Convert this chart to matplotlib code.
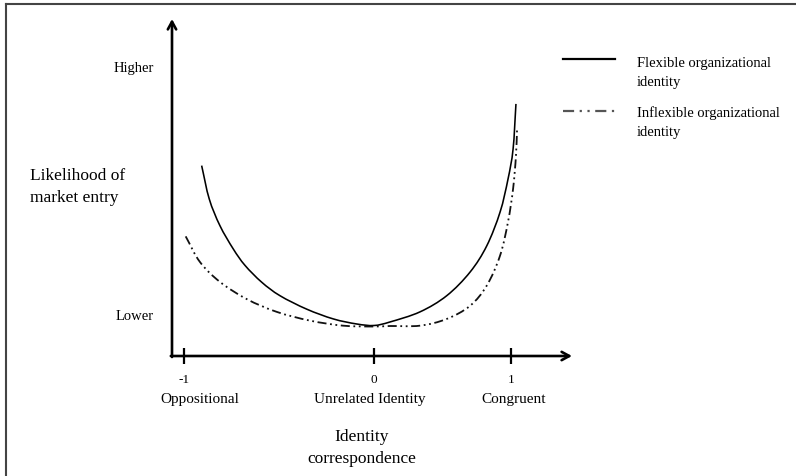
import numpy as np
import matplotlib
matplotlib.use("Agg")
import matplotlib.pyplot as plt
from matplotlib.lines import Line2D
from matplotlib.path import Path
from matplotlib.patches import PathPatch

plt.rcParams['font.family'] = ['Liberation Serif', 'DejaVu Serif']

# ---- data (conceptual curves) ----
flex_x = [-0.907, -0.867, -0.811, -0.741, -0.679, -0.591, -0.495, -0.354, -0.214,
          -0.091, 0.0, 0.117, 0.336, 0.531, 0.701, 0.823, 0.920, 0.978, 1.015, 1.036]
flex_y = [0.565, 0.466, 0.387, 0.318, 0.269, 0.219, 0.179, 0.139, 0.110,
          0.095, 0.0905, 0.101, 0.131, 0.179, 0.249, 0.327, 0.427, 0.525, 0.614, 0.748]

inflex_x = [-0.991, -0.916, -0.811, -0.670, -0.512, -0.337, -0.163, 0.0,
            0.117, 0.336, 0.531, 0.701, 0.823, 0.920, 0.978, 1.015, 1.036, 1.044]
inflex_y = [0.355, 0.279, 0.220, 0.169, 0.131, 0.105, 0.090, 0.0875,
            0.089, 0.090, 0.110, 0.149, 0.209, 0.298, 0.398, 0.496, 0.594, 0.674]

x_ticks = [-1, 0, 1]
x_tick_labels = ['-1', '0', '1']
x_categories = ['Oppositional', 'Unrelated Identity', 'Congruent']
y_ticks = [0.125, 0.861]
y_tick_labels = ['Lower', 'Higher']
series_labels = ['Flexible organizational\nidentity', 'Inflexible organizational\nidentity']

# ---- layout ----
W, H = 796, 477
fig = plt.figure(figsize=(W / 100, H / 100), dpi=100)

def fx(px):
    return px / W

def fy(py):
    return 1 - py / H

ax = fig.add_axes([fx(172), fy(357), 400 / W, 337 / H])

def fwd(x):
    x = np.asarray(x, dtype=float)
    return np.where(x < 0, x * 190.0, x * 137.0)

def inv(u):
    u = np.asarray(u, dtype=float)
    return np.where(u < 0, u / 190.0, u / 137.0)

ax.set_xscale('function', functions=(fwd, inv))
ax.set_xlim(-1.063, 1.445)
ax.set_ylim(0, 1)
for s in ax.spines.values():
    s.set_visible(False)
ax.patch.set_alpha(0)


def smooth_path(xs, ys):
    """Catmull-Rom curve through the given points, drawn as cubic Bezier path."""
    u = fwd(xs)
    v = np.asarray(ys, dtype=float) * 337.0
    P = np.column_stack([u, v])
    n = len(P)
    verts = [P[0]]
    codes = [Path.MOVETO]
    for i in range(n - 1):
        p0 = P[i - 1] if i > 0 else 2 * P[i] - P[i + 1]
        p1 = P[i]
        p2 = P[i + 1]
        p3 = P[i + 2] if i + 2 < n else 2 * P[i + 1] - P[i]
        c1 = p1 + (p2 - p0) / 6.0
        c2 = p2 - (p3 - p1) / 6.0
        verts += [c1, c2, p2]
        codes += [Path.CURVE4] * 3
    V = np.array(verts)
    V[:, 0] = inv(V[:, 0])
    V[:, 1] = V[:, 1] / 337.0
    return Path(V, codes)


ax.add_patch(PathPatch(smooth_path(flex_x, flex_y), fill=False, edgecolor='black',
                       lw=1.15))
ax.add_patch(PathPatch(smooth_path(inflex_x, inflex_y), fill=False, edgecolor='#111111',
                       lw=1.3, linestyle=(0, (5, 2, 1, 2, 1, 2))))

# axes arrows
arrow = dict(arrowstyle='->,head_length=0.55,head_width=0.3', lw=1.9,
             color='black', shrinkA=0, shrinkB=0)
ax.annotate('', xy=(1, 0), xytext=(-0.003, 0), xycoords='axes fraction', arrowprops=arrow)
ax.annotate('', xy=(0, 1), xytext=(0, -0.003), xycoords='axes fraction', arrowprops=arrow)

ax.set_xticks(x_ticks, labels=x_tick_labels)
ax.tick_params(axis='x', direction='inout', length=12, width=1.6, pad=6,
               labelsize=9.5, color='black')
ax.set_yticks(y_ticks, labels=y_tick_labels)
ax.tick_params(axis='y', length=0, pad=13, labelsize=10.5)

cat_pos = [-0.916, -0.021, 1.022]
trans = ax.get_xaxis_transform()
for xv, lab in zip(cat_pos, x_categories):
    ax.text(xv, -(400 - 357) / 337, lab, transform=trans, ha='center', va='center',
            fontsize=11, clip_on=False)

# axis titles
fig.text(fx(362), fy(437), 'Identity', ha='center', va='center', fontsize=12.5)
fig.text(fx(362), fy(459), 'correspondence', ha='center', va='center', fontsize=12.5)
fig.text(fx(30), fy(176), 'Likelihood of', ha='left', va='center', fontsize=12.5)
fig.text(fx(30), fy(198), 'market entry', ha='left', va='center', fontsize=12.5)

# legend (manual)
fig.add_artist(Line2D([fx(563), fx(615)], [fy(60), fy(60)], color='black', lw=1.6))
fig.add_artist(Line2D([fx(563), fx(615)], [fy(112), fy(112)], color='#555555', lw=1.6,
                      linestyle=(0, (5, 2.5, 1, 2.5, 1, 2.5))))
for py, lab in zip([57, 106], series_labels):
    fig.text(fx(637), fy(py), lab, ha='left', va='top', fontsize=10.5, linespacing=1.6)

# frame border (partially cropped)
fig.add_artist(Line2D([fx(6), fx(6)], [fy(5), 0], color='#444444', lw=1.5))
fig.add_artist(Line2D([fx(6), 1], [fy(5), fy(5)], color='#444444', lw=1.5))

fig.savefig('out.png', dpi=100)
